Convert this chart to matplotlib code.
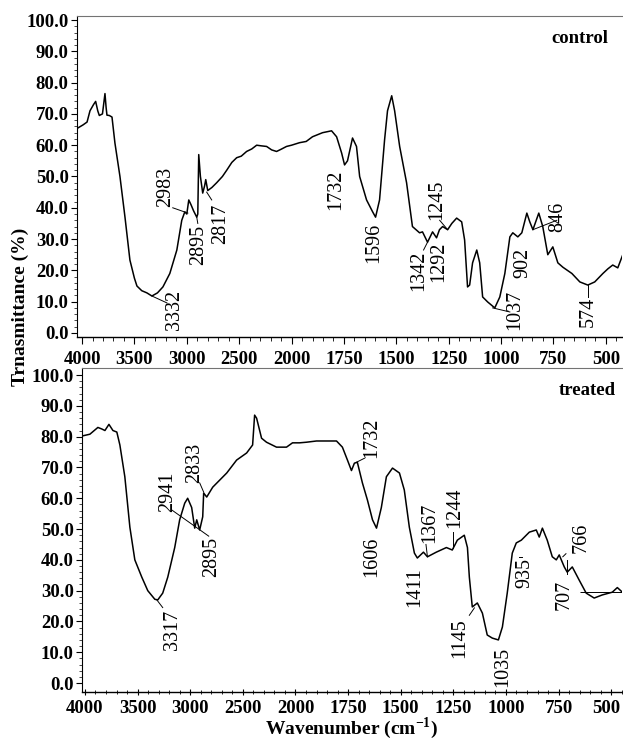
import numpy as np
import matplotlib
matplotlib.use("Agg")
import matplotlib.pyplot as plt
from matplotlib.transforms import offset_copy

plt.rcParams['font.family'] = ['Liberation Serif', 'DejaVu Serif']
plt.rcParams['mathtext.fontset'] = 'custom'
plt.rcParams['mathtext.rm'] = 'Liberation Serif'
plt.rcParams['mathtext.bf'] = 'Liberation Serif:bold'

# control spectrum (wavenumber, transmittance)
ctrl_wn = [4040, 3990, 3952, 3924, 3890, 3870, 3850, 3835, 3805, 3781, 3770, 3762,
           3740, 3714, 3700, 3686, 3660, 3638, 3590, 3543, 3500, 3476, 3430, 3381,
           3333, 3280, 3228, 3162, 3095, 3048, 3019, 3000, 2981, 2960, 2935, 2905,
           2895, 2886, 2870, 2848, 2830, 2819, 2800, 2760, 2715, 2660, 2619, 2570,
           2524, 2480, 2429, 2380, 2333, 2290, 2238, 2190, 2143, 2100, 2048, 2000,
           1962, 1930, 1900, 1852, 1809, 1785, 1761, 1747, 1733, 1720, 1709, 1690,
           1675, 1642, 1613, 1599, 1580, 1556, 1542, 1522, 1508, 1484, 1451, 1423,
           1389, 1375, 1351, 1327, 1308, 1294, 1279, 1255, 1235, 1212, 1188, 1174,
           1160, 1150, 1136, 1116, 1102, 1088, 1064, 1030, 1006, 982, 958, 944,
           920, 901, 877, 863, 848, 820, 801, 777, 753, 729, 705, 662,
           624, 586, 553, 514, 490, 467, 443, 419]
ctrl_t = [65.5, 66.5, 67.4, 71, 73, 74, 71, 69.5, 70, 76.5, 72, 69.6,
          69.5, 69, 65, 60.7, 55, 50, 37, 23.3, 17.5, 15, 13.5, 12.8,
          11.8, 12.8, 14.7, 19, 26.5, 36, 38.7, 38, 42.5, 41, 39, 37,
          38, 57, 50, 44.7, 47, 49, 45.5, 46.5, 48, 50, 52, 54.5,
          56, 56.5, 58, 58.8, 60, 59.8, 59.6, 58.5, 58, 58.7, 59.6, 60,
          60.8, 61.2, 62.7, 64, 64.6, 62.7, 57.5, 53.7, 55, 59, 62.3, 59.6,
          50, 42.5, 38.7, 37, 42.5, 61.7, 71, 75.8, 71, 59.6, 48, 34,
          32, 32.3, 29, 32.3, 30.4, 33, 34, 33, 35, 36.7, 35.5, 29.7,
          14.7, 15.3, 22.4, 26.5, 22.4, 11.5, 9.9, 8, 11.5, 19, 30.7, 32,
          30.7, 32, 38.3, 35.5, 33, 38.3, 34, 25, 27.5, 22.4, 21, 19,
          16.3, 15.3, 16.3, 19, 20.5, 21.7, 20.8, 25]

# treated spectrum
trt_wn = [4030, 3953, 3877, 3840, 3810, 3772, 3734, 3697, 3668, 3621, 3573, 3526,
          3460, 3403, 3336, 3308, 3261, 3213, 3147, 3100, 3052, 3024, 2986, 2957,
          2938, 2910, 2881, 2872, 2843, 2786, 2653, 2559, 2464, 2407, 2388, 2369,
          2322, 2275, 2180, 2085, 2028, 1981, 1948, 1900, 1805, 1777, 1753, 1734,
          1720, 1706, 1682, 1658, 1634, 1615, 1592, 1568, 1539, 1506, 1483, 1459,
          1435, 1421, 1392, 1373, 1331, 1283, 1255, 1231, 1198, 1183, 1174, 1160,
          1136, 1112, 1089, 1065, 1036, 1017, 994, 970, 951, 927, 889, 856,
          842, 827, 804, 780, 761, 747, 723, 709, 685, 652, 619, 581,
          543, 495, 471, 447]
trt_t = [80.2, 80.8, 83, 82.5, 82, 84, 82, 81.5, 77.3, 67, 50.6, 40,
         34.4, 30, 27.2, 27, 29.2, 34.4, 44, 53, 58.4, 60, 57, 50.3,
         53, 49.7, 54, 61.7, 60.4, 63.6, 68.2, 72.4, 74.7, 77.3, 87, 86,
         79.5, 78.2, 76.6, 76.6, 78, 78, 78.2, 78.6, 78.6, 76.6, 72.4, 69,
         71.4, 71.7, 65, 59.4, 53, 50.3, 57, 67, 69.8, 68.2, 62.7, 50.6,
         42.2, 40.6, 42.5, 41, 42.5, 44, 43.2, 46.4, 48, 44, 34.4, 24.7,
         26, 22.7, 15.6, 14.6, 14, 18.2, 29.2, 42.2, 45.5, 46.4, 49, 49.7,
         47.4, 50.3, 46.4, 41, 40, 41.6, 37.7, 36, 37.7, 33.4, 29.2, 27.6,
         28.6, 29.5, 31, 29.5]

# peak labels: text, label centre, leader line (or None)
ctrl_peaks = [("3332", 3114, 7.3, (3333, 11.8, 3190, 9.6)),
              ("2983", 3200, 46.6, (3134, 40, 2990, 38.3)),
              ("2895", 2886, 28, (2905, 37, 2895, 35)),
              ("2817", 2677, 35, (2810, 45, 2762, 42.5)),
              ("1732", 1790, 45.7, None),
              ("1596", 1608, 28.8, None),
              ("1342", 1393, 20, (1351, 29, 1370, 26.5)),
              ("1292", 1298, 22.7, None),
              ("1245", 1307, 42.5, (1293, 36, 1255, 33)),
              ("1037", 935, 7.3, (1040, 8, 958, 6.7)),
              ("902", 897, 22.4, None),
              ("846", 730, 37, (848, 33, 734, 36)),
              ("574", 586, 6.7, (586, 15.3, 586, 11.5))]
trt_peaks = [("3317", 3166, 17.2, (3317, 27, 3261, 24.5)),
             ("2941", 3213, 62, (3175, 56.2, 2824, 47.7)),
             ("2833", 2957, 71.4, (2910, 65, 2872, 62)),
             ("2895", 2796, 41, None),
             ("1732", 1640, 79.5, (1710, 71.7, 1672, 73)),
             ("1606", 1640, 41, None),
             ("1411", 1435, 31, None),
             ("1367", 1364, 52, (1373, 41, 1380, 45)),
             ("1244", 1245, 56.8, (1250, 49, 1250, 44)),
             ("1145", 1222, 14.6, (1174, 22, 1150, 24.4)),
             ("1035", 1016, 5.2, None),
             ("935", 912, 35.7, (940, 41, 925, 41)),
             ("707", 722, 28.6, (712, 40, 712, 35.5)),
             ("766", 643, 47, (730, 41, 715, 42))]

xmajor = [4000, 3500, 3000, 2500, 2000, 1750, 1500, 1250, 1000, 750, 500]
xminor = list(range(4000, 2000, -100)) + list(range(2000, 400, -50))
yticks = np.arange(0, 101, 10)


def fwd(w):
    w = np.asarray(w, dtype=float)
    return np.where(w < 2000, w, 2000 + (w - 2000) / 2)


def inv(u):
    u = np.asarray(u, dtype=float)
    return np.where(u < 2000, u, 2000 + (u - 2000) * 2)


fig = plt.figure(figsize=(6.23, 7.4), dpi=100)
ax1 = fig.add_axes([0.1236, 0.5446, 0.8744, 0.4338])
ax2 = fig.add_axes([0.1316, 0.0649, 0.8664, 0.4378])


def setup(ax, xlim, ylim, xdir, xpad):
    ax.set_xscale('function', functions=(fwd, inv))
    ax.set_xlim(*xlim)
    ax.set_ylim(*ylim)
    ax.set_xticks(xmajor)
    ax.set_xticks(xminor, minor=True)
    ax.set_xticklabels([str(v) for v in xmajor])
    ax.set_yticks(yticks)
    ax.set_yticks(np.arange(0, 101, 2), minor=True)
    ax.set_yticklabels(["%.1f" % v for v in yticks])
    ax.spines['right'].set_visible(False)
    ax.spines['top'].set_color('0.45')
    ax.spines['top'].set_linewidth(0.8)
    ax.spines['left'].set_linewidth(0.8)
    ax.spines['bottom'].set_linewidth(1.0)
    ax.tick_params(axis='x', which='major', direction=xdir, length=5, width=0.8, pad=xpad)
    ax.tick_params(axis='x', which='minor', direction=xdir, length=3, width=0.6)
    ax.tick_params(axis='y', which='major', direction='out', length=4, width=0.8, pad=2)
    ax.tick_params(axis='y', which='minor', direction='out', length=2.5, width=0.5)
    for lab in ax.get_xticklabels() + ax.get_yticklabels():
        lab.set_fontweight('bold')
        lab.set_fontsize(13.5)


def label_peaks(ax, peaks):
    for txt, tw, tv, line in peaks:
        ax.text(tw, tv, txt, rotation=90, ha='center', va='center', fontsize=14.5)
        if line is not None:
            ax.plot([line[0], line[2]], [line[1], line[3]], color='black', lw=0.7)


setup(ax1, (4048, 424), (-1.3, 101.3), 'out', 5)
ax1.plot(ctrl_wn, ctrl_t, color='black', lw=1.1)
label_peaks(ax1, ctrl_peaks)
ax1.text(0.923, 0.93, "control", transform=ax1.transAxes, ha='center', va='center',
         fontsize=13.5, fontweight='bold')

setup(ax2, (4028, 453), (-2.9, 102.3), 'inout', 3)
ax2.plot(trt_wn, trt_t, color='black', lw=1.1)
ax2.hlines(29.6, 650, 447, color='black', lw=0.7)
label_peaks(ax2, trt_peaks)
ax2.text(0.937, 0.932, "treated", transform=ax2.transAxes, ha='center', va='center',
         fontsize=13.5, fontweight='bold')
ax2.set_xlabel(r"Wavenumber (cm$^{\mathbf{-1}}$)", fontsize=14, fontweight='bold', labelpad=-1)

# last bottom label sits against the right edge
last = ax2.get_xticklabels()[-1]
last.set_transform(offset_copy(last.get_transform(), fig=fig, x=-5, units='dots'))

fig.text(0.032, 0.585, "Trnasmittance (%)", rotation=90, ha='center', va='center',
         fontsize=14, fontweight='bold')

fig.savefig("out.png", dpi=100)
